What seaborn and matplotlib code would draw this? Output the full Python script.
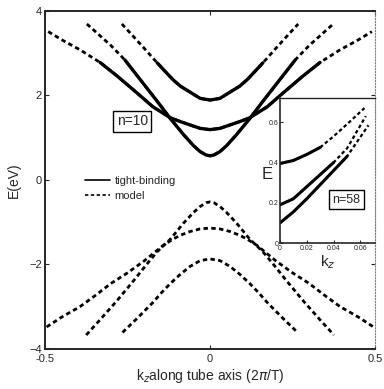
import numpy as np
import pandas as pd
import seaborn as sns
import matplotlib
matplotlib.use('Agg')
import matplotlib.pyplot as plt
from matplotlib.lines import Line2D

# region data
# n=10 conduction bands, E(k) in eV, k in units of 2pi/T
c1_k = [-0.373, -0.34, -0.30, -0.258, -0.20, -0.16, -0.12, -0.08, -0.05, -0.03, -0.012, 0.0,
        0.012, 0.03, 0.05, 0.08, 0.12, 0.16, 0.20, 0.258, 0.30, 0.34, 0.373]
c1_E = [3.69, 3.46, 3.18, 2.84, 2.26, 1.86, 1.45, 1.07, 0.81, 0.67, 0.59, 0.57,
        0.59, 0.67, 0.81, 1.07, 1.45, 1.86, 2.26, 2.84, 3.18, 3.46, 3.69]

c2_k = [-0.49, -0.45, -0.394, -0.333, -0.28, -0.22, -0.173, -0.12, -0.09, -0.06, -0.03, 0.0,
        0.03, 0.06, 0.09, 0.12, 0.173, 0.22, 0.28, 0.333, 0.394, 0.45, 0.49]
c2_E = [3.51, 3.32, 3.08, 2.78, 2.45, 2.05, 1.73, 1.47, 1.38, 1.30, 1.22, 1.19,
        1.22, 1.30, 1.38, 1.47, 1.73, 2.05, 2.45, 2.78, 3.08, 3.32, 3.51]

c3_k = [-0.267, -0.235, -0.20, -0.16, -0.135, -0.112, -0.09, -0.061, -0.03, 0.0,
        0.03, 0.061, 0.09, 0.112, 0.135, 0.16, 0.20, 0.235, 0.267]
c3_E = [3.69, 3.42, 3.12, 2.77, 2.56, 2.37, 2.22, 2.08, 1.93, 1.89,
        1.93, 2.08, 2.22, 2.37, 2.56, 2.77, 3.12, 3.42, 3.69]

# tight-binding range for each conduction band (solid part)
tb_kmax = [0.258, 0.333, 0.16]

# n=10 valence bands (model only)
v1_k = [-0.375, -0.333, -0.282, -0.233, -0.19, -0.16, -0.12, -0.08, -0.05, -0.03, -0.012, 0.0,
        0.012, 0.03, 0.05, 0.08, 0.12, 0.16, 0.19, 0.233, 0.282, 0.333, 0.375]
v1_E = [-3.67, -3.31, -2.86, -2.40, -1.98, -1.70, -1.40, -1.02, -0.77, -0.63, -0.54, -0.52,
        -0.54, -0.63, -0.77, -1.02, -1.40, -1.70, -1.98, -2.40, -2.86, -3.31, -3.67]

v2_k = [-0.495, -0.45, -0.394, -0.35, -0.30, -0.25, -0.20, -0.142, -0.112, -0.09, -0.06, -0.03, 0.0,
        0.03, 0.06, 0.09, 0.112, 0.142, 0.20, 0.25, 0.30, 0.35, 0.394, 0.45, 0.495]
v2_E = [-3.48, -3.25, -3.00, -2.75, -2.45, -2.20, -1.92, -1.55, -1.40, -1.31, -1.22, -1.16, -1.14,
        -1.16, -1.22, -1.31, -1.40, -1.55, -1.92, -2.20, -2.45, -2.75, -3.00, -3.25, -3.48]

v3_k = [-0.265, -0.22, -0.173, -0.146, -0.12, -0.091, -0.061, -0.03, 0.0,
        0.03, 0.061, 0.091, 0.12, 0.146, 0.173, 0.22, 0.265]
v3_E = [-3.61, -3.27, -2.90, -2.66, -2.45, -2.24, -2.05, -1.91, -1.87,
        -1.91, -2.05, -2.24, -2.45, -2.66, -2.90, -3.27, -3.61]

# inset, n=58, small k
in1_k = [0.0, 0.01, 0.02, 0.03, 0.04, 0.05, 0.063]
in1_E = [0.395, 0.41, 0.44, 0.475, 0.53, 0.59, 0.67]
in2_k = [0.0, 0.01, 0.02, 0.03, 0.04, 0.05, 0.064]
in2_E = [0.19, 0.22, 0.28, 0.34, 0.40, 0.47, 0.63]
in3_k = [0.0, 0.01, 0.02, 0.03, 0.04, 0.05, 0.066]
in3_E = [0.10, 0.155, 0.22, 0.29, 0.36, 0.43, 0.585]
inset_tb_kmax = [0.03, 0.045, 0.05]

main_xticks = [-0.5, 0, 0.5]
main_xticklabels = ['-0.5', '0', '0.5']
main_yticks = [-4, -2, 0, 2, 4]
inset_xticks = [0, 0.02, 0.04, 0.06]
inset_xticklabels = ['0', '0.02', '0.04', '0.06']
inset_yticks = [0, 0.2, 0.4, 0.6]
inset_yticklabels = ['0', '0.2', '0.4', '0.6']
# endregion

sns.set_style('ticks')
plt.rcParams['font.family'] = ['Liberation Sans', 'DejaVu Sans']

fig = plt.figure(figsize=(3.84, 3.89), dpi=100)
ax = fig.add_axes([0.117, 0.103, 0.860, 0.869])

dash = (0, (1.6, 1.2))
tb_lw = 2.4
mod_lw = 2.0

conduction = [(c1_k, c1_E), (c2_k, c2_E), (c3_k, c3_E)]
valence = [(v1_k, v1_E), (v2_k, v2_E), (v3_k, v3_E)]

for kk, ee in conduction + valence:
    df = pd.DataFrame({'k': kk, 'E': ee})
    sns.lineplot(data=df, x='k', y='E', ax=ax, color='black', lw=mod_lw,
                 linestyle=dash, sort=False, estimator=None)

for (kk, ee), kmax in zip(conduction, tb_kmax):
    df = pd.DataFrame({'k': kk, 'E': ee})
    df = df[df['k'].abs() <= kmax + 1e-9]
    sns.lineplot(data=df, x='k', y='E', ax=ax, color='black', lw=tb_lw,
                 sort=False, estimator=None)

ax.set_xlim(-0.5, 0.5)
ax.set_ylim(-4, 4)
ax.set_xticks(main_xticks)
ax.set_xticklabels(main_xticklabels)
ax.set_yticks(main_yticks)
ax.tick_params(direction='in', top=True, right=True, length=3, width=0.8,
               labelsize=8, pad=2)
ax.tick_params(axis='x', pad=4)
ax.set_xlabel(r'k$_z$along tube axis (2$\pi$/T)', fontsize=10, labelpad=2)
ax.set_ylabel('E(eV)', fontsize=10, labelpad=6)
for s in ['left', 'bottom', 'top']:
    ax.spines[s].set_linewidth(1.4)
ax.spines['right'].set_linestyle(':')
ax.spines['right'].set_color('0.5')
ax.spines['right'].set_linewidth(0.8)

# legend
handles = [Line2D([], [], color='black', lw=1.2),
           Line2D([], [], color='black', lw=1.2, linestyle=(0, (2, 1.5)))]
ax.legend(handles, ['tight-binding', 'model'], loc='center left',
          bbox_to_anchor=(0.09, 0.475), frameon=False, fontsize=8,
          handlelength=2.3, handletextpad=0.4, labelspacing=0.5)

ax.text(0.265, 0.673, 'n=10', transform=ax.transAxes, fontsize=10,
        ha='center', va='center',
        bbox=dict(boxstyle='square,pad=0.25', fc='white', ec='black', lw=1.0))

# inset
ins = fig.add_axes([0.729, 0.375, 0.248, 0.373])
inset_bands = [(in1_k, in1_E), (in2_k, in2_E), (in3_k, in3_E)]
for kk, ee in inset_bands:
    df = pd.DataFrame({'k': kk, 'E': ee})
    sns.lineplot(data=df, x='k', y='E', ax=ins, color='black', lw=1.6,
                 linestyle=dash, sort=False, estimator=None)
for (kk, ee), kmax in zip(inset_bands, inset_tb_kmax):
    df = pd.DataFrame({'k': kk, 'E': ee})
    df = df[df['k'] <= kmax + 1e-9]
    sns.lineplot(data=df, x='k', y='E', ax=ins, color='black', lw=2.2,
                 sort=False, estimator=None)
ins.set_xlim(0, 0.071)
ins.set_ylim(0, 0.72)
ins.set_xticks(inset_xticks)
ins.set_xticklabels(inset_xticklabels)
ins.set_yticks(inset_yticks)
ins.set_yticklabels(inset_yticklabels)
ins.tick_params(direction='in', length=2, labelsize=5, pad=1)
ins.set_xlabel(r'k$_z$', fontsize=11, labelpad=1)
ins.set_ylabel('E', fontsize=12, rotation=0)
ins.yaxis.set_label_coords(-0.13, 0.42)
ins.spines['left'].set_linewidth(1.2)
ins.spines['bottom'].set_linewidth(1.2)
ins.spines['top'].set_linewidth(1.0)
ins.spines['right'].set_linestyle(':')
ins.spines['right'].set_color('0.5')
ins.text(0.70, 0.30, 'n=58', transform=ins.transAxes, fontsize=9,
         ha='center', va='center',
         bbox=dict(boxstyle='square,pad=0.25', fc='white', ec='black', lw=1.0))

plt.savefig('out.png', dpi=100)
